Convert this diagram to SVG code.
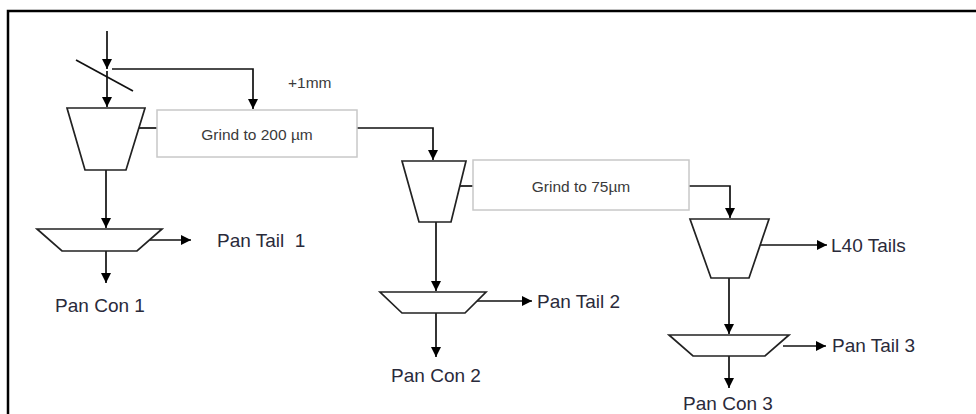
<svg xmlns="http://www.w3.org/2000/svg" width="976" height="414" viewBox="0 0 976 414">
<defs>
<marker id="ah" viewBox="0 0 10 10" refX="10" refY="5" markerWidth="10" markerHeight="10" markerUnits="userSpaceOnUse" orient="auto">
<path d="M0,0 L10,5 L0,10 z" fill="#000"/>
</marker>
<style>
.frame{fill:none;stroke:#000;stroke-width:2.5}
.ln{fill:none;stroke:#111;stroke-width:1.7}
.arr{fill:none;stroke:#111;stroke-width:1.7;marker-end:url(#ah)}
.eq{fill:#fff;stroke:#222;stroke-width:1.7;stroke-linejoin:miter}
.box{fill:#fff;stroke:#c8c8c8;stroke-width:1.5}
.lbl{font-family:"Liberation Sans",Arial,sans-serif;font-size:19px;fill:#2a2a3a;white-space:pre}
.gt{font-family:"Liberation Sans",Arial,sans-serif;font-size:15.5px;fill:#3a3a3a}
</style>
</defs>
<rect width="976" height="414" fill="#fff"/>
<path class="frame" d="M8,414 V11 H976"/>

<g id="connectors">
<path class="arr" d="M107,31 V69"/>
<path class="ln" d="M76,60 L133,91"/>
<path class="arr" d="M112,69 H253 V109"/>
<path class="arr" d="M107,71 V107"/>
<path class="ln" d="M139,128 H157"/>
<path class="arr" d="M357,128 H433 V160"/>
<path class="arr" d="M106,170 V228"/>
<path class="arr" d="M150,240 H191"/>
<path class="arr" d="M106,251 V283"/>
<path class="ln" d="M460,186 H473"/>
<path class="arr" d="M689,186 H730 V218"/>
<path class="arr" d="M436,222 V291"/>
<path class="arr" d="M475,301 H532"/>
<path class="arr" d="M436,313 V357"/>
<path class="arr" d="M760,245 H827"/>
<path class="arr" d="M729,278 V334"/>
<path class="arr" d="M783,346 H826"/>
<path class="arr" d="M729,356 V388"/>
</g>

<g id="feed_label"><text class="gt" x="288" y="88" font-size="13.5">+1mm</text></g>

<g id="cyclone1"><polygon class="eq" points="67,108 145,108 126,170 85,170"/></g>
<g id="grind1"><rect class="box" x="157" y="110" width="200" height="47"/><text class="gt" x="257" y="140" text-anchor="middle">Grind to 200 µm</text></g>
<g id="pan1"><polygon class="eq" points="37,229 162,229 137,251 62,251"/></g>
<g id="pantail1"><text class="lbl" x="217" y="247" xml:space="preserve">Pan Tail  1</text></g>
<g id="pancon1"><text class="lbl" x="100" y="312" text-anchor="middle">Pan Con 1</text></g>

<g id="cyclone2"><polygon class="eq" points="402,161 466,161 451,222 419,222"/></g>
<g id="grind2"><rect class="box" x="473" y="160" width="216" height="50"/><text class="gt" x="581" y="192" text-anchor="middle">Grind to 75µm</text></g>
<g id="pan2"><polygon class="eq" points="380,292 486,292 465,313 402,313"/></g>
<g id="pantail2"><text class="lbl" x="537" y="308">Pan Tail 2</text></g>
<g id="pancon2"><text class="lbl" x="436" y="382" text-anchor="middle">Pan Con 2</text></g>

<g id="cyclone3"><polygon class="eq" points="690,219 769,219 749,278 711,278"/></g>
<g id="l40tails"><text class="lbl" x="831" y="252">L40 Tails</text></g>
<g id="pan3"><polygon class="eq" points="669,335 789,335 765,356 693,356"/></g>
<g id="pantail3"><text class="lbl" x="832" y="352">Pan Tail 3</text></g>
<g id="pancon3"><text class="lbl" x="728" y="410" text-anchor="middle">Pan Con 3</text></g>
</svg>
